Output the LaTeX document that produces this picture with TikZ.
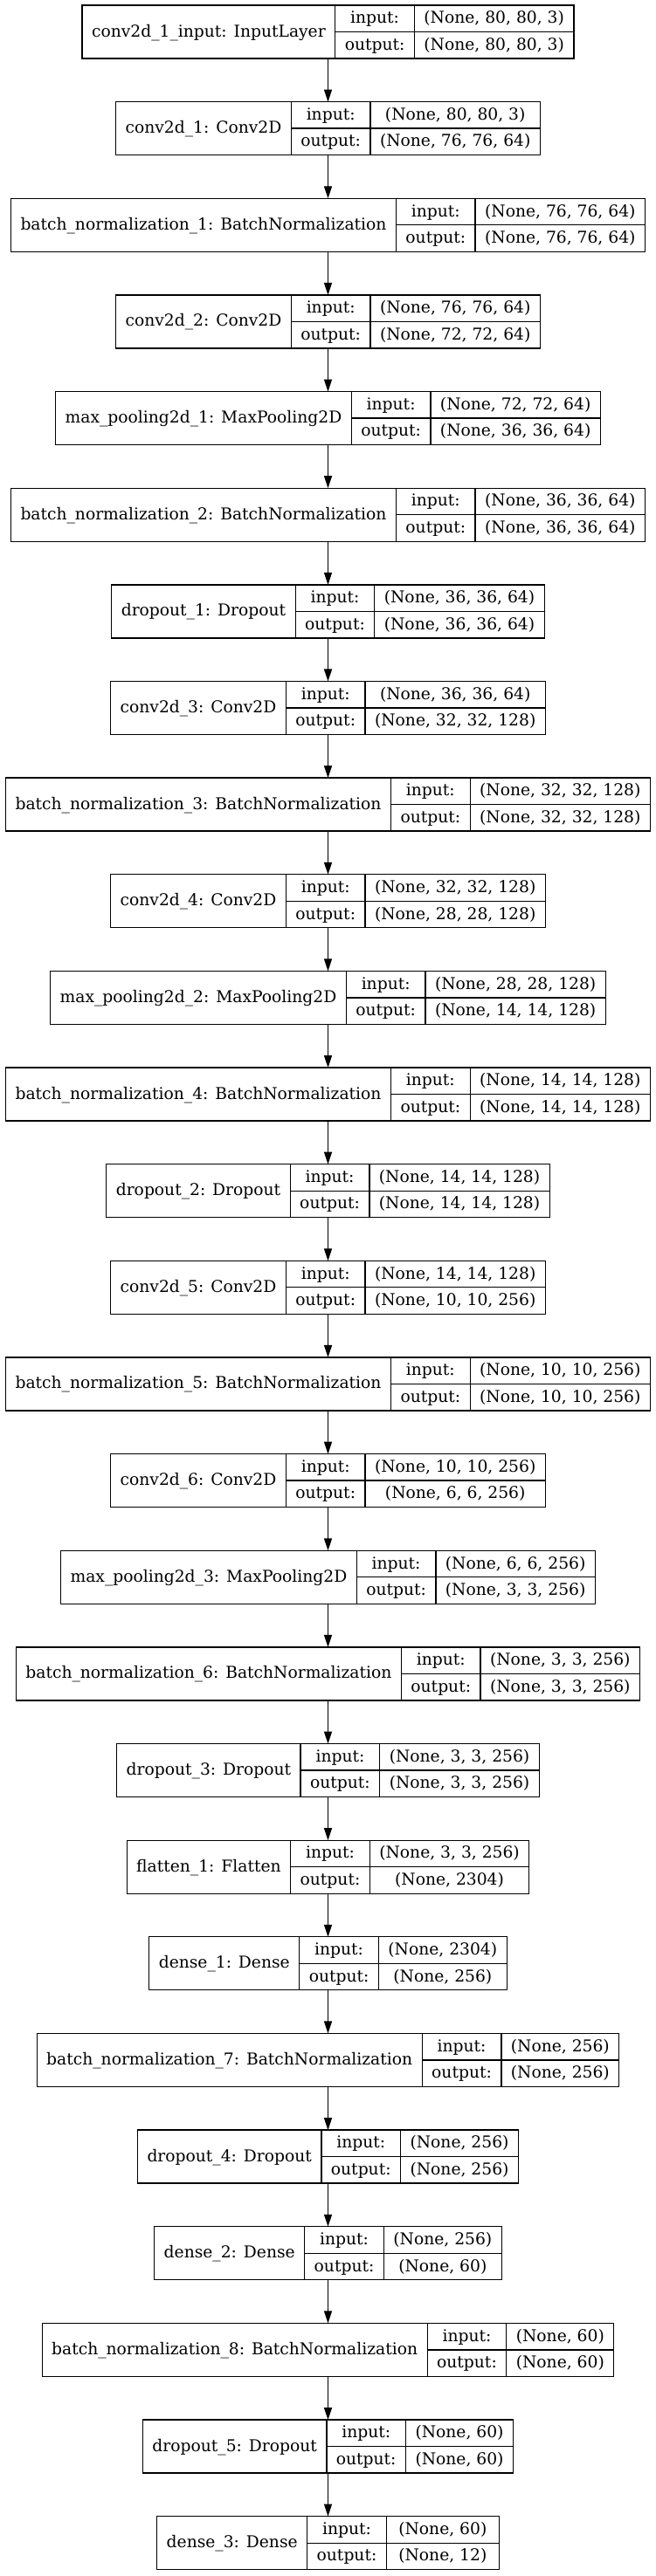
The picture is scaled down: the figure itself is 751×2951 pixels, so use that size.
\documentclass[tikz,border=0pt]{standalone}
\usepackage{fontspec}
\setmainfont{DejaVu Serif}
\usetikzlibrary{positioning}
\usetikzlibrary{arrows.meta}

\newcommand{\layerFont}{\fontsize{18.7}{22}\selectfont}
\newlength{\nameWidth}
\newlength{\shapeWidth}
\newlength{\shapeWidthB}
\newlength{\ioWidth}

% name / input shape / output shape of every layer
\newcommand{\layerList}{
	conv2d\_1\_input: InputLayer/{(None, 80, 80, 3)}/{(None, 80, 80, 3)},
	conv2d\_1: Conv2D/{(None, 80, 80, 3)}/{(None, 76, 76, 64)},
	batch\_normalization\_1: BatchNormalization/{(None, 76, 76, 64)}/{(None, 76, 76, 64)},
	conv2d\_2: Conv2D/{(None, 76, 76, 64)}/{(None, 72, 72, 64)},
	max\_pooling2d\_1: MaxPooling2D/{(None, 72, 72, 64)}/{(None, 36, 36, 64)},
	batch\_normalization\_2: BatchNormalization/{(None, 36, 36, 64)}/{(None, 36, 36, 64)},
	dropout\_1: Dropout/{(None, 36, 36, 64)}/{(None, 36, 36, 64)},
	conv2d\_3: Conv2D/{(None, 36, 36, 64)}/{(None, 32, 32, 128)},
	batch\_normalization\_3: BatchNormalization/{(None, 32, 32, 128)}/{(None, 32, 32, 128)},
	conv2d\_4: Conv2D/{(None, 32, 32, 128)}/{(None, 28, 28, 128)},
	max\_pooling2d\_2: MaxPooling2D/{(None, 28, 28, 128)}/{(None, 14, 14, 128)},
	batch\_normalization\_4: BatchNormalization/{(None, 14, 14, 128)}/{(None, 14, 14, 128)},
	dropout\_2: Dropout/{(None, 14, 14, 128)}/{(None, 14, 14, 128)},
	conv2d\_5: Conv2D/{(None, 14, 14, 128)}/{(None, 10, 10, 256)},
	batch\_normalization\_5: BatchNormalization/{(None, 10, 10, 256)}/{(None, 10, 10, 256)},
	conv2d\_6: Conv2D/{(None, 10, 10, 256)}/{(None, 6, 6, 256)},
	max\_pooling2d\_3: MaxPooling2D/{(None, 6, 6, 256)}/{(None, 3, 3, 256)},
	batch\_normalization\_6: BatchNormalization/{(None, 3, 3, 256)}/{(None, 3, 3, 256)},
	dropout\_3: Dropout/{(None, 3, 3, 256)}/{(None, 3, 3, 256)},
	flatten\_1: Flatten/{(None, 3, 3, 256)}/{(None, 2304)},
	dense\_1: Dense/{(None, 2304)}/{(None, 256)},
	batch\_normalization\_7: BatchNormalization/{(None, 256)}/{(None, 256)},
	dropout\_4: Dropout/{(None, 256)}/{(None, 256)},
	dense\_2: Dense/{(None, 256)}/{(None, 60)},
	batch\_normalization\_8: BatchNormalization/{(None, 60)}/{(None, 60)},
	dropout\_5: Dropout/{(None, 60)}/{(None, 60)},
	dense\_3: Dense/{(None, 60)}/{(None, 12)}
}

\tikzset{
	layerBox/.style={draw, line width=1.3pt, minimum height=61pt, inner sep=0pt, outer sep=0pt},
	nameCell/.style={font=\layerFont, inner xsep=11pt, inner ysep=0pt, outer sep=0pt, minimum height=61pt, text height=11pt, text depth=0pt},
	ioCell/.style={draw, font=\layerFont, line width=1.3pt, inner sep=0pt, outer sep=0pt, minimum height=30.5pt, text height=11pt, text depth=0pt},
	flow/.style={line width=1.3pt, -{Triangle[length=14pt, width=9pt]}}
}

\begin{document}
% widths of the record fields, measured before the picture
\settowidth{\ioWidth}{\layerFont output:}%
\foreach \lname/\shin/\shout [count=\i] in \layerList {%
	\settowidth{\nameWidth}{\layerFont\lname}%
	\settowidth{\shapeWidth}{\layerFont\shin}%
	\settowidth{\shapeWidthB}{\layerFont\shout}%
	\ifdim\shapeWidthB>\shapeWidth \setlength{\shapeWidth}{\shapeWidthB}\fi
	\pgfmathsetmacro{\boxW}{\nameWidth+\ioWidth+\shapeWidth+66}%
	\expandafter\xdef\csname layerW\i\endcsname{\boxW}%
	\expandafter\xdef\csname shapeW\i\endcsname{\the\shapeWidth}%
}%
\begin{tikzpicture}[x=1pt, y=-1pt]

\useasboundingbox (0,0) rectangle (751,2951);

% --- layers
\foreach \lname/\shin/\shout [count=\i] in \layerList {
	\pgfmathsetmacro{\yc}{36.5+(\i-1)*110.64}

	\node[layerBox, minimum width=\csname layerW\i\endcsname pt] (layer\i) at (375.5,\yc) {};
	\node[nameCell, anchor=west] (layer\i-name) at (layer\i.west) {\lname};
	\node[ioCell, minimum width=\ioWidth+22pt, anchor=north west] (layer\i-in) at (layer\i-name.north east) {input:};
	\node[ioCell, minimum width=\ioWidth+22pt, anchor=north] (layer\i-out) at (layer\i-in.south) {output:};
	\node[ioCell, minimum width=\csname shapeW\i\endcsname+22pt, anchor=north west] (layer\i-shin) at (layer\i-in.north east) {\shin};
	\node[ioCell, minimum width=\csname shapeW\i\endcsname+22pt, anchor=north] (layer\i-shout) at (layer\i-shin.south) {\shout};
}

% --- connections
\foreach \i [count=\j from 2] in {1,...,26} {
	\draw[flow] (layer\i) -- (layer\j);
}

\end{tikzpicture}
\end{document}
